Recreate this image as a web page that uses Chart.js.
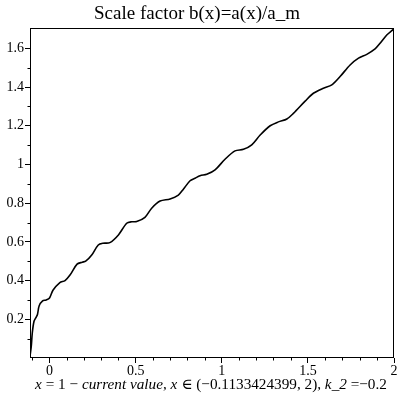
<!DOCTYPE html>
<html>
<head>
<meta charset="utf-8">
<script src="https://cdn.jsdelivr.net/npm/chart.js@4/dist/chart.umd.min.js"></script>
<style>
  html, body { margin: 0; padding: 0; background: #fff; }
</style>
</head>
<body>
<canvas id="scaleChart" width="400" height="400"></canvas>
<script>
// x = 1 - current value
const xValues = [-0.1133, -0.106, -0.100, -0.090, -0.078, -0.070, -0.060, -0.040, -0.020, 0.0,
  0.02, 0.06, 0.09, 0.12, 0.16, 0.19, 0.21, 0.245, 0.283, 0.31,
  0.35, 0.40, 0.448, 0.477, 0.506, 0.554, 0.593, 0.642, 0.70, 0.748,
  0.777, 0.816, 0.845, 0.874, 0.913, 0.961, 1.019, 1.077, 1.126, 1.174,
  1.223, 1.281, 1.329, 1.378, 1.416, 1.484, 1.532, 1.590, 1.639, 1.687,
  1.745, 1.794, 1.842, 1.890, 1.919, 1.958, 1.987, 2.0];
// b(x) = a(x)/a_m
const bValues = [0.01, 0.06, 0.13, 0.19, 0.21, 0.225, 0.27, 0.295, 0.30, 0.31,
  0.35, 0.39, 0.40, 0.43, 0.485, 0.495, 0.50, 0.532, 0.584, 0.593,
  0.596, 0.636, 0.696, 0.704, 0.705, 0.727, 0.774, 0.811, 0.822, 0.842,
  0.872, 0.916, 0.929, 0.942, 0.949, 0.972, 1.027, 1.070, 1.078, 1.101,
  1.152, 1.20, 1.220, 1.235, 1.264, 1.327, 1.368, 1.394, 1.411, 1.454,
  1.514, 1.549, 1.569, 1.597, 1.626, 1.669, 1.691, 1.70];

const xTicks = [0, 0.5, 1, 1.5, 2];
const xTickLabels = ['0', '0.5', '1', '1.5', '2'];
const xMinorTicks = [-0.1, 0.1, 0.2, 0.3, 0.4, 0.6, 0.7, 0.8, 0.9, 1.1, 1.2, 1.3, 1.4, 1.6, 1.7, 1.8, 1.9];
const yTicks = [0.2, 0.4, 0.6, 0.8, 1, 1.2, 1.4, 1.6];
const yTickLabels = ['0.2', '0.4', '0.6', '0.8', '1', '1.2', '1.4', '1.6'];
const yMinorTicks = [0.1, 0.3, 0.5, 0.7, 0.9, 1.1, 1.3, 1.5];

const titleText = 'Scale factor b(x)=a(x)/a_m';
// x-axis caption, pieces with italic flag
const xCaption = [
  ['x', true], [' = 1 \u2212 ', false], ['current value', true], [', ', false],
  ['x', true], [' \u2208 (\u22120.1133424399, 2), ', false], ['k_2', true], [' =\u22120.2', false]
];

const serif = '"Liberation Serif", "DejaVu Serif", serif';

const boxPlugin = {
  id: 'box',
  afterDraw(chart) {
    const { ctx, chartArea: a, scales } = chart;
    ctx.save();
    ctx.strokeStyle = '#000';
    ctx.lineWidth = 1;
    const l = Math.round(a.left) + 0.5, r = Math.round(a.right) - 0.5;
    const t = Math.round(a.top) + 0.5, b = Math.round(a.bottom) - 0.5;
    ctx.strokeRect(l, t, r - l, b - t);

    // minor ticks, outside the box
    ctx.beginPath();
    xMinorTicks.forEach(v => {
      const px = Math.round(scales.x.getPixelForValue(v)) + 0.5;
      ctx.moveTo(px, b);
      ctx.lineTo(px, b + 3);
    });
    yMinorTicks.forEach(v => {
      const py = Math.round(scales.y.getPixelForValue(v)) + 0.5;
      ctx.moveTo(l, py);
      ctx.lineTo(l - 3, py);
    });
    ctx.stroke();

    // caption under the x axis, sized to span about 352px
    const fontFor = (it, size) => (it ? 'italic ' : '') + size + 'px ' + serif;
    const widthAt = size => xCaption.reduce((w, [txt, it]) => {
      ctx.font = fontFor(it, size);
      return w + ctx.measureText(txt).width;
    }, 0);
    const size = 14 * 352 / widthAt(14);
    let cx = 211 - widthAt(size) / 2;
    ctx.fillStyle = '#000';
    ctx.textBaseline = 'alphabetic';
    ctx.textAlign = 'left';
    xCaption.forEach(([txt, it]) => {
      ctx.font = fontFor(it, size);
      ctx.fillText(txt, cx, 389);
      cx += ctx.measureText(txt).width;
    });
    ctx.restore();
  }
};

new Chart(document.getElementById('scaleChart').getContext('2d'), {
  type: 'line',
  data: {
    datasets: [{
      data: xValues.map((x, i) => ({ x: x, y: bValues[i] })),
      borderColor: '#000',
      borderWidth: 1.6,
      pointRadius: 0,
      tension: 0.3,
      fill: false
    }]
  },
  options: {
    responsive: false,
    animation: false,
    devicePixelRatio: 1,
    layout: { padding: { left: 0, right: 6, top: 0, bottom: 0 } },
    plugins: {
      legend: { display: false },
      tooltip: { enabled: false },
      title: {
        display: true,
        text: titleText,
        color: '#000',
        font: { family: serif, size: 19, weight: 'normal', lineHeight: 1.2 },
        padding: { top: 3, bottom: 2.2 }
      }
    },
    scales: {
      x: {
        type: 'linear',
        min: -0.1133424399,
        max: 2,
        afterBuildTicks: s => { s.ticks = xTicks.map(v => ({ value: v })); },
        afterFit: s => { s.height = 42; },
        ticks: {
          color: '#000',
          font: { family: serif, size: 14 },
          padding: 0,
          maxRotation: 0,
          callback: v => xTickLabels[xTicks.indexOf(v)]
        },
        grid: { drawOnChartArea: false, drawTicks: true, tickLength: 5, color: '#000' },
        border: { display: false }
      },
      y: {
        type: 'linear',
        min: 0,
        max: 1.705,
        afterBuildTicks: s => { s.ticks = yTicks.map(v => ({ value: v })); },
        afterFit: s => { s.width = 30; },
        ticks: {
          color: '#000',
          font: { family: serif, size: 14 },
          padding: 1,
          callback: v => yTickLabels[yTicks.indexOf(v)]
        },
        grid: { drawOnChartArea: false, drawTicks: true, tickLength: 5, color: '#000' },
        border: { display: false }
      }
    }
  },
  plugins: [boxPlugin]
});
</script>
</body>
</html>
